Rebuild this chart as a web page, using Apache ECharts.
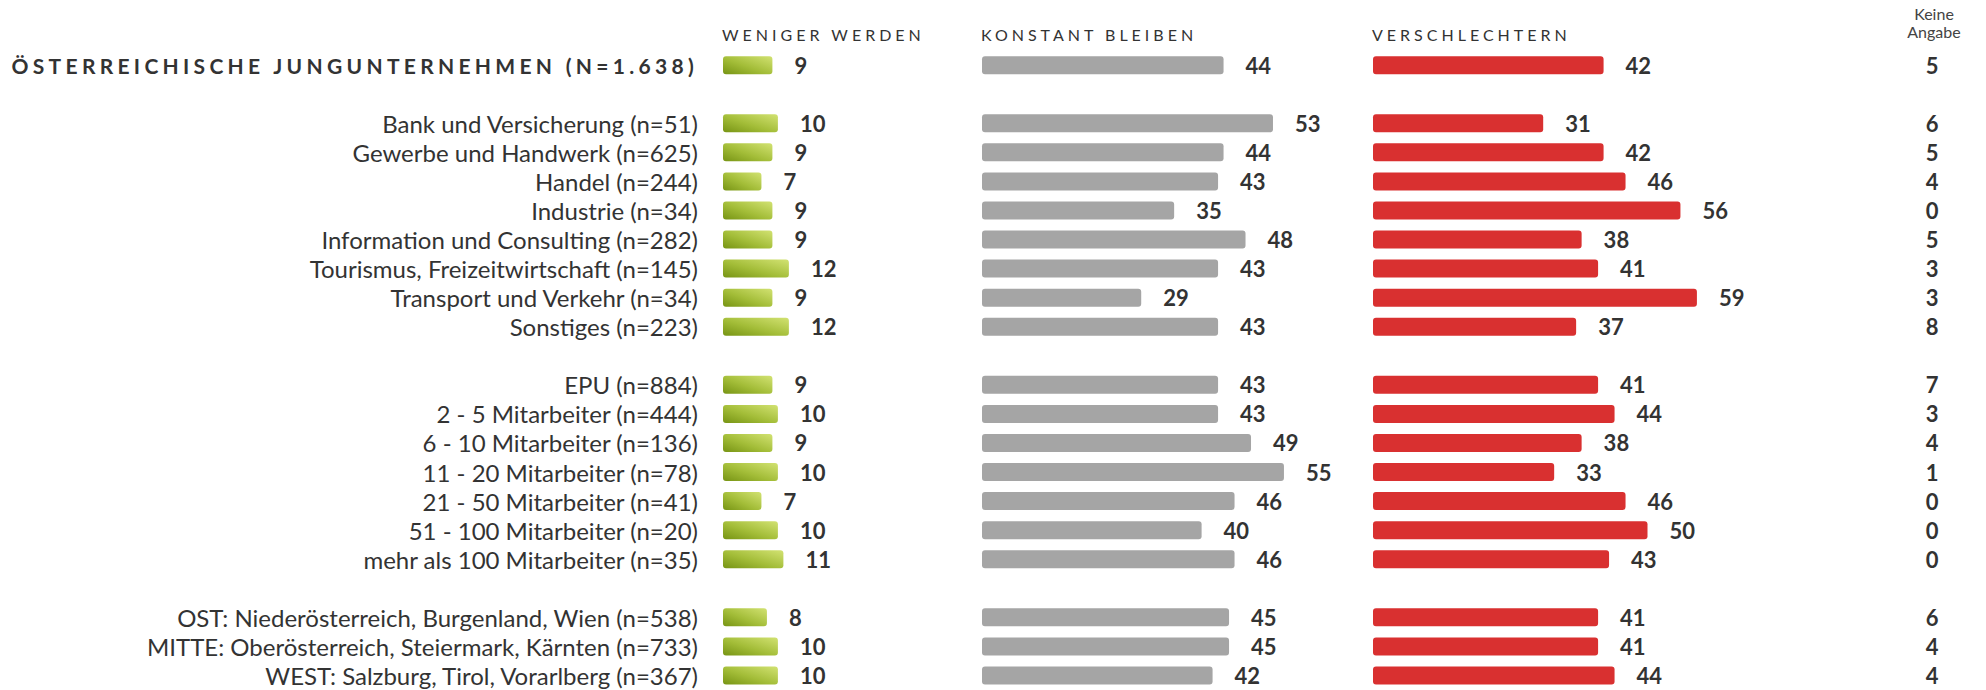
<!DOCTYPE html>
<html>
<head>
<meta charset="utf-8">
<title>Junguntemehmen</title>
<script src="https://cdn.jsdelivr.net/npm/echarts@6/dist/echarts.min.js"></script>
<style>
  html, body { margin: 0; padding: 0; background: #fff; }
  #chart { width: 1986px; height: 690px; }
  /* echarts has no letter-spacing option -> spaced texts get a marker font family */
  #chart text[style*="SpacedBold"] { letter-spacing: 4.3px; }
  #chart text[style*="SpacedLight"] { letter-spacing: 4px; }
</style>
</head>
<body>
<div id="chart"></div>
<script>
// '' = leere Zeile zwischen den Gruppen
const categories = [
  'ÖSTERREICHISCHE JUNGUNTERNEHMEN (N=1.638)', '',
  'Bank und Versicherung (n=51)', 'Gewerbe und Handwerk (n=625)', 'Handel (n=244)',
  'Industrie (n=34)', 'Information und Consulting (n=282)', 'Tourismus, Freizeitwirtschaft (n=145)',
  'Transport und Verkehr (n=34)', 'Sonstiges (n=223)', '',
  'EPU (n=884)', '2 - 5 Mitarbeiter (n=444)', '6 - 10 Mitarbeiter (n=136)', '11 - 20 Mitarbeiter (n=78)',
  '21 - 50 Mitarbeiter (n=41)', '51 - 100 Mitarbeiter (n=20)', 'mehr als 100 Mitarbeiter (n=35)', '',
  'OST: Niederösterreich, Burgenland, Wien (n=538)', 'MITTE: Oberösterreich, Steiermark, Kärnten (n=733)',
  'WEST: Salzburg, Tirol, Vorarlberg (n=367)'
];
const weniger        = [9, '-', 10, 9, 7, 9, 9, 12, 9, 12, '-', 9, 10, 9, 10, 7, 10, 11, '-', 8, 10, 10];
const konstant       = [44, '-', 53, 44, 43, 35, 48, 43, 29, 43, '-', 43, 43, 49, 55, 46, 40, 46, '-', 45, 45, 42];
const verschlechtern = [42, '-', 31, 42, 46, 56, 38, 41, 59, 37, '-', 41, 44, 38, 33, 46, 50, 43, '-', 41, 41, 44];
const keineAngabe    = [5, '-', 6, 5, 4, 0, 5, 3, 3, 8, '-', 7, 3, 4, 1, 0, 0, 0, '-', 6, 4, 4];
const headers = ['WENIGER WERDEN', 'KONSTANT BLEIBEN', 'VERSCHLECHTERN'];

const textColor = '#333';
const colLeft = [723, 982, 1373, 1932];
const gridTop = 50.6;
const gridHeight = 640.4;

const chart = echarts.init(document.getElementById('chart'), null, { renderer: 'svg' });

const valueLabel = {
  show: true,
  position: 'right',
  distance: 22,
  fontFamily: 'Lato',
  fontWeight: 'bold',
  fontSize: 22,
  color: textColor,
};

function barSeries(name, idx, data, color) {
  return {
    name: name,
    type: 'bar',
    xAxisIndex: idx,
    yAxisIndex: idx,
    data: data,
    barWidth: 18,
    silent: true,
    itemStyle: { color: color, borderRadius: 3 },
    label: valueLabel,
  };
}

const green = new echarts.graphic.LinearGradient(0, 1, 1, 0, [
  { offset: 0, color: '#779414' },
  { offset: 0.45, color: '#a3bd38' },
  { offset: 1, color: '#d2e272' },
]);

const option = {
  backgroundColor: '#fff',
  animation: false,
  grid: colLeft.map((left) => ({ left: left, top: gridTop, width: 549, height: gridHeight })),
  xAxis: colLeft.map((left, i) => ({ type: 'value', gridIndex: i, min: 0, max: 100, show: false })),
  yAxis: colLeft.map((left, i) => ({
    type: 'category',
    gridIndex: i,
    data: categories,
    inverse: true,
    axisLine: { show: false },
    axisTick: { show: false },
    splitLine: { show: false },
    axisLabel: {
      show: i === 0,
      interval: 0,
      margin: 25,
      fontFamily: 'Lato',
      fontSize: 24,
      color: textColor,
      formatter: (v, idx) => (idx === 0 ? '{t|' + v + '}' : v),
      rich: {
        t: { fontFamily: 'SpacedBold, Lato', fontWeight: 'bold', fontSize: 21, color: textColor },
      },
    },
  })),
  graphic: headers
    .map((h, i) => ({
      type: 'text',
      left: colLeft[i] - 1,
      top: 26,
      style: { text: h, fontFamily: 'SpacedLight, Lato', fontSize: 16, fill: textColor },
    }))
    .concat([
      {
        type: 'text',
        x: 1934,
        y: 22.5,
        style: {
          text: 'Keine\nAngabe',
          align: 'center',
          verticalAlign: 'middle',
          fontFamily: 'Lato',
          fontSize: 16,
          lineHeight: 18,
          fill: '#444',
        },
      },
    ]),
  series: [
    barSeries('weniger werden', 0, weniger, green),
    barSeries('konstant bleiben', 1, konstant, '#a5a5a5'),
    barSeries('verschlechtern', 2, verschlechtern, '#d93030'),
    {
      // keine Angabe: nur die Zahl, Balken unsichtbar
      name: 'keine Angabe',
      type: 'bar',
      xAxisIndex: 3,
      yAxisIndex: 3,
      data: keineAngabe,
      barWidth: 18,
      silent: true,
      itemStyle: { color: 'rgba(0,0,0,0)' },
      label: Object.assign({}, valueLabel, { position: [0, '50%'], align: 'center', verticalAlign: 'middle' }),
    },
  ],
};

chart.setOption(option);
</script>
</body>
</html>
